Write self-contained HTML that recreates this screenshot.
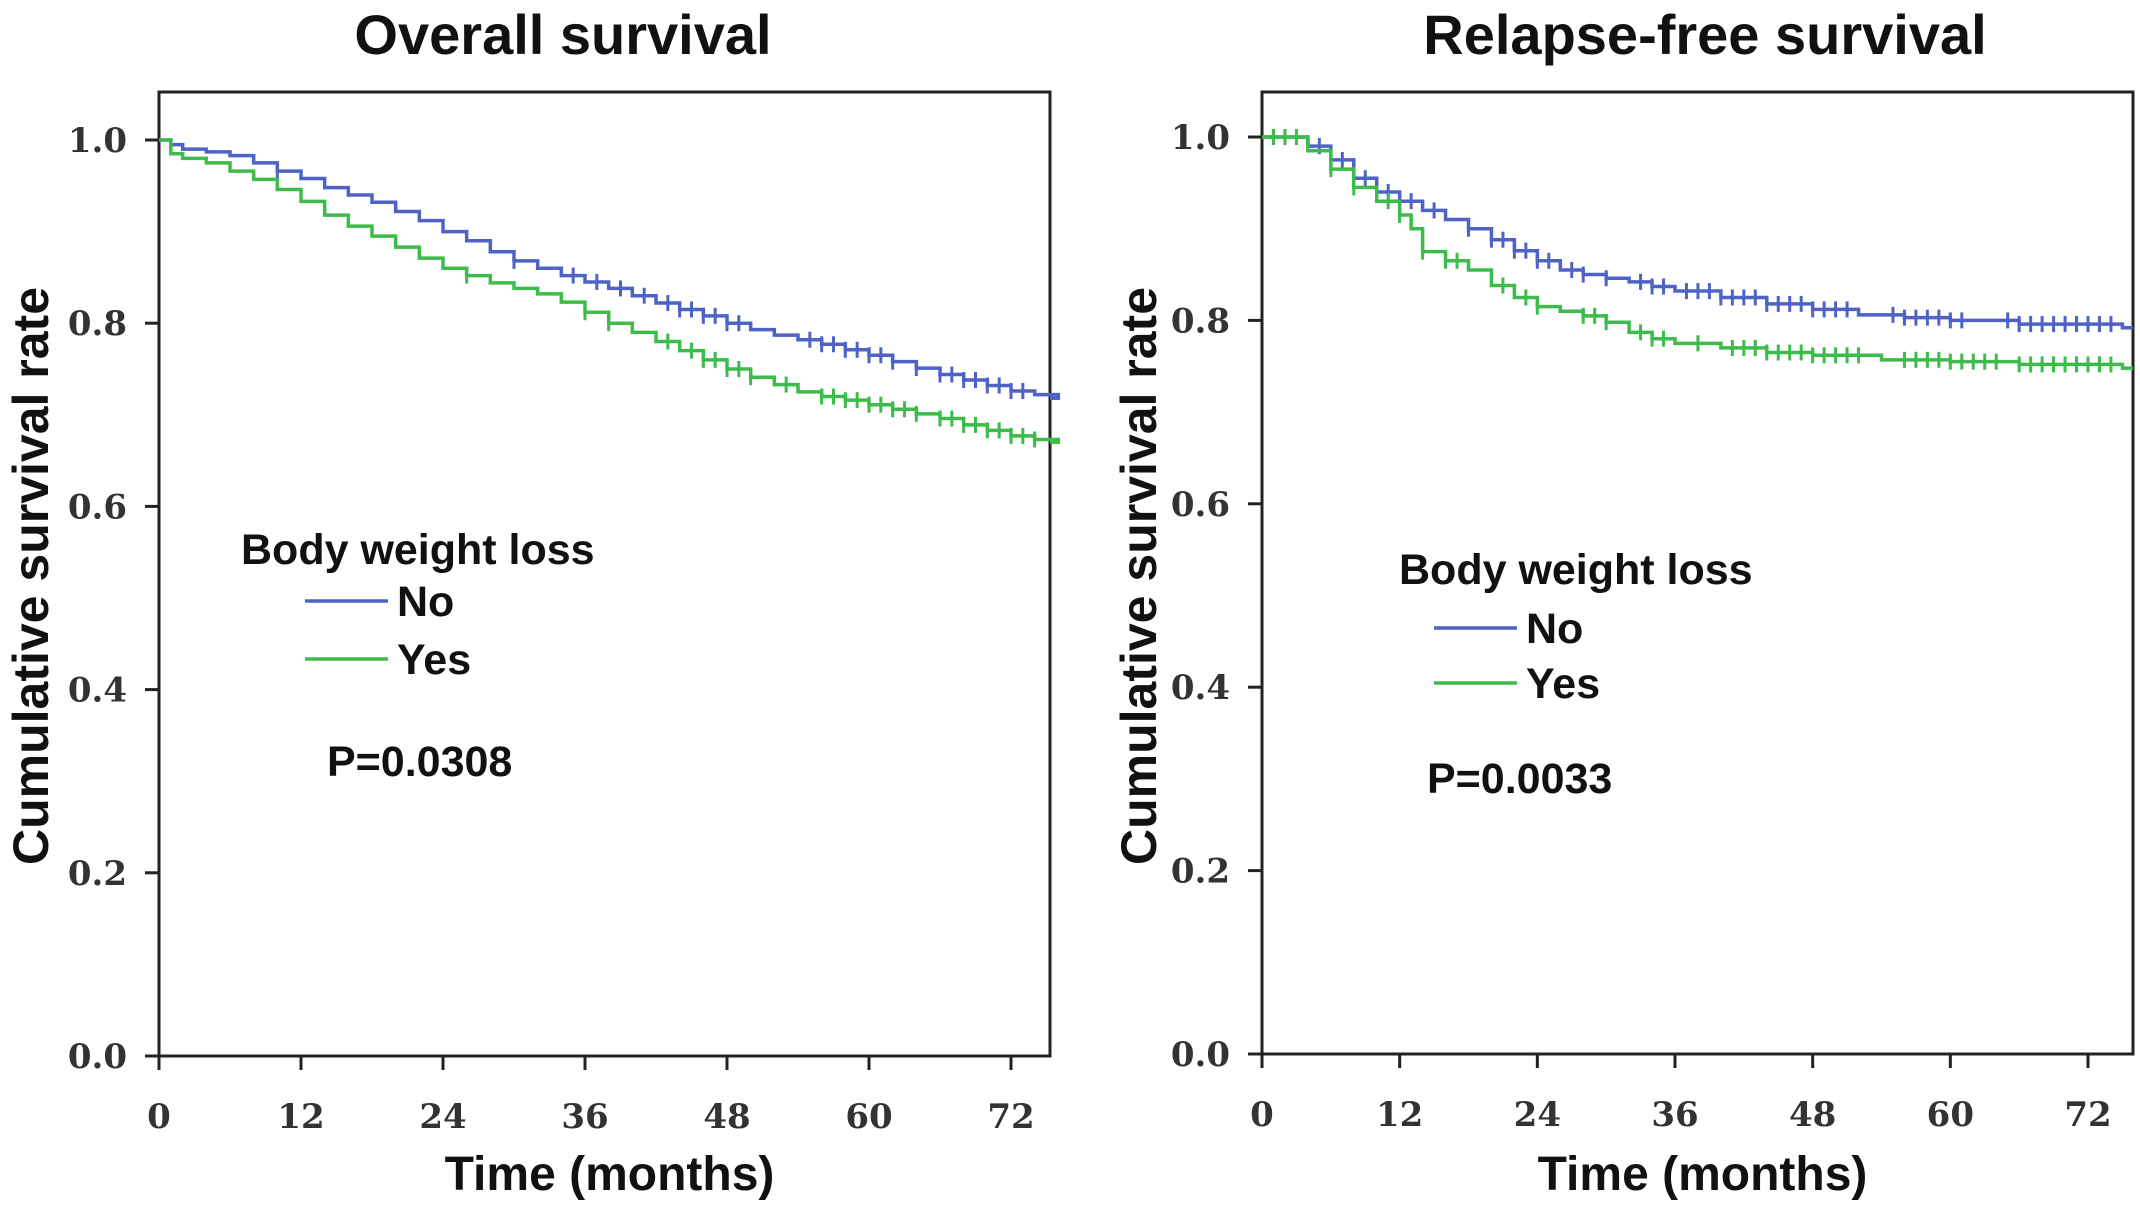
<!DOCTYPE html>
<html><head><meta charset="utf-8"><style>
html,body{margin:0;padding:0;background:#fff;}
svg{display:block;}
.tk{font-family:"DejaVu Serif","Liberation Serif",serif;font-weight:bold;font-size:34px;fill:#333;}
.ttl{font-family:"Liberation Sans",sans-serif;font-weight:bold;font-size:56px;fill:#111;}
.ax{font-family:"Liberation Sans",sans-serif;font-weight:bold;font-size:48px;fill:#111;}
.yax{font-family:"Liberation Sans",sans-serif;font-weight:bold;font-size:50px;fill:#111;}
.lg{font-family:"Liberation Sans",sans-serif;font-weight:bold;font-size:43px;fill:#111;}
</style></head><body>
<svg id="fig" width="2140" height="1211" viewBox="0 0 2140 1211" xmlns="http://www.w3.org/2000/svg"></svg>
<script>
// ---- data ----
const osTimesNo = [0,1,2,4,6,8,10,12,14,16,18,20,22,24,26,28,30,32,34,36,38,40,42,44,46,48,50,52,54,56,58,60,62,64,66,68,70,72,74,76];
const osSurvNo  = [1.0,0.995,0.99,0.987,0.983,0.975,0.966,0.958,0.948,0.94,0.932,0.922,0.912,0.9,0.89,0.878,0.868,0.86,0.852,0.845,0.838,0.83,0.822,0.815,0.808,0.8,0.793,0.787,0.782,0.777,0.771,0.765,0.758,0.751,0.744,0.738,0.732,0.726,0.722,0.718];
const osTimesYes = [0,1,2,4,6,8,10,12,14,16,18,20,22,24,26,28,30,32,34,36,38,40,42,44,46,48,50,52,54,56,58,60,62,64,66,68,70,72,74,76];
const osSurvYes  = [1.0,0.985,0.98,0.975,0.966,0.957,0.946,0.933,0.918,0.906,0.895,0.883,0.871,0.86,0.852,0.844,0.838,0.832,0.823,0.812,0.8,0.79,0.78,0.77,0.76,0.75,0.741,0.733,0.725,0.72,0.716,0.711,0.706,0.701,0.696,0.689,0.683,0.677,0.673,0.67];
const osCensNo = [10,30,35,37,39,41,43,44,45,46,47,48,49,55,56,57,58,59,60,61,62,64,66,67,68,69,70,71,72,73];
const osCensYes = [26,36,38,43,45,46,47,48,49,50,53,56,57,58,59,60,61,62,63,64,66,67,68,69,70,71,72,73,74];

const rfsTimesNo = [0,2,4,6,8,10,12,14,16,18,20,22,24,26,28,30,32,34,36,40,44,48,52,56,60,66,75];
const rfsSurvNo  = [1.0,1.0,0.99,0.975,0.955,0.94,0.93,0.92,0.91,0.9,0.888,0.876,0.865,0.855,0.85,0.846,0.842,0.837,0.832,0.825,0.818,0.812,0.806,0.803,0.8,0.796,0.792];
const rfsTimesYes = [0,2,4,6,8,10,12,13,14,16,18,20,22,24,26,28,30,32,34,36,40,44,48,54,60,66,75];
const rfsSurvYes  = [1.0,1.0,0.985,0.965,0.945,0.93,0.915,0.9,0.875,0.865,0.855,0.838,0.825,0.815,0.81,0.805,0.798,0.787,0.78,0.775,0.77,0.765,0.762,0.757,0.755,0.752,0.748];
const rfsCensNo = [1,2,5,7,8,9,10,11,12,13,15,18,20,21,22,23,24,25,27,28,30,33,34,35,37,38,39,40,41,42,43,44,45,46,47,48,49,50,51,55,56,57,58,59,60,61,65,66,67,68,69,70,71,72,73,74];
const rfsCensYes = [1,2,3,6,8,11,12,14,16,17,21,23,24,28,29,30,33,34,35,38,41,42,43,44,45,46,47,48,49,50,51,52,56,57,58,59,60,61,62,63,64,66,67,68,69,70,71,72,73,74];

const xTicks = [0,12,24,36,48,60,72];
const yTicks = [0,0.2,0.4,0.6,0.8,1.0];
const yLabels = ["0.0","0.2","0.4","0.6","0.8","1.0"];

const NS="http://www.w3.org/2000/svg";
const svg=document.getElementById('fig');
const BLUE="#4f62c6", GREEN="#3dbb4b";
function mk(tag,attrs,parent){const e=document.createElementNS(NS,tag);for(const k in attrs)e.setAttribute(k,attrs[k]);(parent||svg).appendChild(e);return e;}

function panel(cfg){
  const g=mk('g',{});
  
  
  const X=t=>cfg.x0+(t/72)*(cfg.x72-cfg.x0);
  const Y=v=>cfg.yb+(cfg.y1-cfg.yb)*v;
  const frame=mk('rect',{x:cfg.x0,y:cfg.top,width:cfg.right-cfg.x0,height:cfg.yb-cfg.top,fill:'none',stroke:'#222','stroke-width':3},g);
  
  
  xTicks.forEach(t=>{
    mk('line',{x1:X(t),x2:X(t),y1:cfg.yb,y2:cfg.yb+14,stroke:'#222','stroke-width':3},g);
    const tx=mk('text',{x:X(t),y:cfg.yb+72,'text-anchor':'middle',class:'tk'},g);
    tx.textContent=t;
    
    
  });
  yTicks.forEach((v,i)=>{
    mk('line',{x1:cfg.x0-14,x2:cfg.x0,y1:Y(v),y2:Y(v),stroke:'#222','stroke-width':3},g);
    const tx=mk('text',{x:cfg.x0-32,y:Y(v)+12,'text-anchor':'end',class:'tk'},g);
    tx.textContent=yLabels[i];
    
    
  });
  function series(times,surv,cens,color,nm){
    let d=`M${X(times[0])},${Y(surv[0])}`;
    for(let i=1;i<times.length;i++){d+=` H${X(times[i])} V${Y(surv[i])}`;}
    d+=` H${cfg.right}`;
    const p=mk('path',{d:d,fill:'none',stroke:color,'stroke-width':3.5},g);
    
    
    cens.forEach(c=>{
      let v=surv[0];for(let i=0;i<times.length;i++){if(times[i]<=c)v=surv[i];}
      const l=mk('line',{x1:X(c),x2:X(c),y1:Y(v)-8,y2:Y(v)+8,stroke:color,'stroke-width':3},g);
      
      
    });
  }
  series(cfg.tNo,cfg.sNo,cfg.cNo,BLUE,'no-weight-loss');
  series(cfg.tYes,cfg.sYes,cfg.cYes,GREEN,'weight-loss');
  const ti=mk('text',{x:cfg.titleX,y:54,'text-anchor':'middle',class:'ttl'},g);
  ti.textContent=cfg.title;
  const xt=mk('text',{x:(cfg.x0+cfg.right)/2+5,y:1190,'text-anchor':'middle',class:'ax'},g);
  xt.textContent='Time (months)';
  const yc=576;
  const yt=mk('text',{x:cfg.yTitleX,y:yc,'text-anchor':'middle',class:'yax',transform:`rotate(-90 ${cfg.yTitleX} ${yc})`},g);
  yt.textContent='Cumulative survival rate';
  const lt=mk('text',{x:cfg.lgX,y:cfg.lgY,class:'lg'},g);
  lt.textContent='Body weight loss';
  [['No',BLUE,cfg.noY],['Yes',GREEN,cfg.yesY]].forEach(([lab,c,yy])=>{
    const ln=mk('line',{x1:cfg.lnX,x2:cfg.lnX+83,y1:yy,y2:yy,stroke:c,'stroke-width':3.5},g);
    
    const t=mk('text',{x:cfg.lnX+92,y:yy+15,class:'lg'},g);
    t.textContent=lab;
  });
  const pv=mk('text',{x:cfg.pX,y:cfg.pY,class:'lg'},g);
  pv.textContent=cfg.p;
}
panel({name:'overall-survival-panel',title:'Overall survival',titleX:563,x0:159,x72:1011,right:1050,top:92,yb:1056,y1:140,
  tNo:osTimesNo,sNo:osSurvNo,cNo:osCensNo,tYes:osTimesYes,sYes:osSurvYes,cYes:osCensYes,
  yTitleX:48,lgX:241,lgY:564,lnX:305,noY:601,yesY:659,pX:327,pY:776,p:'P=0.0308'});
panel({name:'relapse-free-survival-panel',title:'Relapse-free survival',titleX:1705,x0:1262,x72:2088,right:2133,top:92,yb:1054,y1:137,
  tNo:rfsTimesNo,sNo:rfsSurvNo,cNo:rfsCensNo,tYes:rfsTimesYes,sYes:rfsSurvYes,cYes:rfsCensYes,
  yTitleX:1156,lgX:1399,lgY:584,lnX:1434,noY:628,yesY:683,pX:1427,pY:793,p:'P=0.0033'});
</script>
</body></html>
